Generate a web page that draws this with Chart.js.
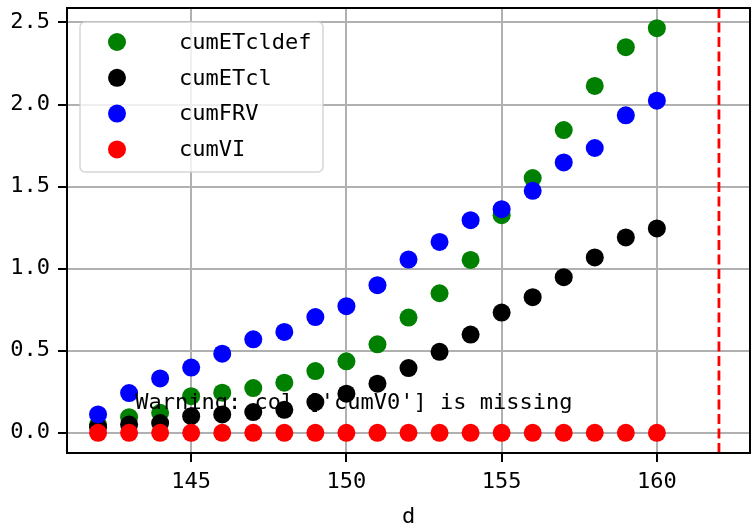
<!DOCTYPE html>
<html><head><meta charset="utf-8">
<script src="https://cdn.jsdelivr.net/npm/chart.js@4.4.0/dist/chart.umd.min.js"></script>
<style>html,body{margin:0;padding:0;background:#fff}#wrap{width:753px;height:526px}</style>
</head><body><div id="wrap"><canvas id="c" width="753" height="526"></canvas></div>
<script>
const days = [142,143,144,145,146,147,148,149,150,151,152,153,154,155,156,157,158,159,160];
const cumETcldef = [0.05,0.095,0.122,0.223,0.244,0.272,0.305,0.376,0.435,0.539,0.702,0.85,1.053,1.326,1.552,1.844,2.113,2.349,2.465];
const cumETcl = [0.034,0.05,0.059,0.101,0.112,0.126,0.14,0.187,0.238,0.299,0.394,0.493,0.598,0.732,0.826,0.948,1.068,1.19,1.245];
const cumFRV = [0.112,0.242,0.331,0.397,0.482,0.569,0.614,0.705,0.771,0.899,1.055,1.163,1.295,1.362,1.474,1.647,1.735,1.934,2.023];
const cumVI = [0,0,0,0,0,0,0,0,0,0,0,0,0,0,0,0,0,0,0];
const seriesLabels = ['cumETcldef','cumETcl','cumFRV','cumVI'];
const seriesColors = ['#008000','#000000','#0000ff','#ff0000'];
const xTicks = [145,150,155,160];
const yTicks = [0,0.5,1.0,1.5,2.0,2.5];
const xRange = [141,163];
const yRange = [-0.1233,2.588];
const vlineX = 162;
const warningText = "Warning: col ['cumV0'] is missing";
const xLabel = 'd';

const FONT = "'DejaVu Sans Mono','Liberation Mono',monospace";
const FS = 22;
const seriesValues = [cumETcldef, cumETcl, cumFRV, cumVI];

const datasets = seriesValues.map((vals, k) => ({
  label: seriesLabels[k],
  data: days.map((d, i) => ({x: d, y: vals[i]})),
  backgroundColor: seriesColors[k],
  borderWidth: 0,
  pointRadius: 9,
  pointHoverRadius: 9,
  order: 3 - k
}));

const overlay = {
  id: 'overlay',
  afterDatasetsDraw(chart) {
    const {ctx, chartArea: a, scales: {x}} = chart;
    ctx.save();
    const px = x.getPixelForValue(vlineX);
    ctx.strokeStyle = '#ff0000';
    ctx.lineWidth = 2.8;
    ctx.setLineDash([10, 4.5]);
    ctx.beginPath(); ctx.moveTo(px, a.bottom); ctx.lineTo(px, a.top); ctx.stroke();
    ctx.restore();
    ctx.save();
    ctx.strokeStyle = '#000'; ctx.lineWidth = 2;
    ctx.strokeRect(a.left, a.top, a.right - a.left, a.bottom - a.top);
    ctx.restore();
    ctx.save();
    ctx.font = FS + 'px ' + FONT;
    ctx.fillStyle = '#000'; ctx.textAlign = 'left'; ctx.textBaseline = 'alphabetic';
    ctx.fillText(warningText, a.left + 0.1 * (a.right - a.left), a.bottom - 0.1 * (a.bottom - a.top));
    ctx.restore();
    ctx.save();
    const lx = a.left + 13, ly = a.top + 14, lw = 243, lh = 150, r = 5;
    ctx.beginPath();
    ctx.moveTo(lx + r, ly);
    ctx.arcTo(lx + lw, ly, lx + lw, ly + lh, r);
    ctx.arcTo(lx + lw, ly + lh, lx, ly + lh, r);
    ctx.arcTo(lx, ly + lh, lx, ly, r);
    ctx.arcTo(lx, ly, lx + lw, ly, r);
    ctx.closePath();
    ctx.fillStyle = 'rgba(255,255,255,0.8)';
    ctx.fill();
    ctx.strokeStyle = 'rgba(204,204,204,0.8)';
    ctx.lineWidth = 1.5;
    ctx.stroke();
    ctx.font = FS + 'px ' + FONT;
    ctx.textAlign = 'left'; ctx.textBaseline = 'middle';
    chart.data.datasets.forEach((ds, k) => {
      const cy = ly + 20 + k * 35.8;
      ctx.fillStyle = ds.backgroundColor;
      ctx.beginPath(); ctx.arc(lx + 37, cy, 9, 0, Math.PI * 2); ctx.fill();
      ctx.fillStyle = '#000';
      ctx.fillText(ds.label, lx + 99, cy + 1);
    });
    ctx.restore();
  }
};

new Chart(document.getElementById('c'), {
  type: 'scatter',
  data: {datasets},
  options: {
    responsive: false,
    animation: false,
    layout: {autoPadding: false, padding: {top: 8, right: 3, left: 0, bottom: 0}},
    plugins: {legend: {display: false}, tooltip: {enabled: false}},
    scales: {
      x: {
        type: 'linear', min: xRange[0], max: xRange[1],
        afterBuildTicks: s => { s.ticks = xTicks.map(v => ({value: v})); },
        afterFit: s => { s.height = 73; s.paddingLeft = 0; s.paddingRight = 0; },
        grid: {color: '#b0b0b0', lineWidth: 2, tickColor: '#000', tickLength: 9, tickWidth: 2},
        border: {color: '#000', width: 2},
        ticks: {font: {family: FONT, size: FS}, color: '#000', padding: 7, maxRotation: 0, autoSkip: false,
                callback: v => String(v)},
        title: {display: true, text: xLabel, font: {family: FONT, size: FS}, color: '#000', padding: {top: 0, bottom: -4}}
      },
      y: {
        type: 'linear', min: yRange[0], max: yRange[1],
        afterBuildTicks: s => { s.ticks = yTicks.map(v => ({value: v})); },
        afterFit: s => { s.width = 67; s.paddingTop = 0; s.paddingBottom = 0; },
        grid: {color: '#b0b0b0', lineWidth: 2, tickColor: '#000', tickLength: 9, tickWidth: 2},
        border: {color: '#000', width: 2},
        ticks: {font: {family: FONT, size: FS}, color: '#000', padding: 8, autoSkip: false,
                callback: v => Number(v).toFixed(1)}
      }
    }
  },
  plugins: [overlay]
});
</script>
</body></html>
